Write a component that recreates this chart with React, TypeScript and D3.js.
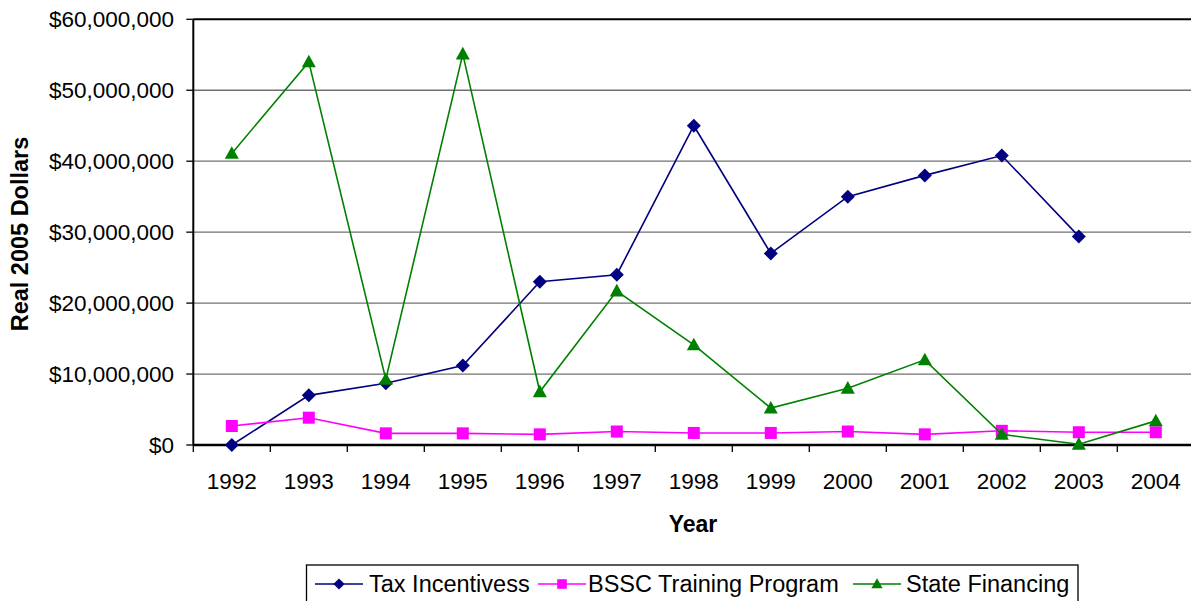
import React from "react";
import * as d3 from "d3";

const years = ["1992","1993","1994","1995","1996","1997","1998","1999","2000","2001","2002","2003","2004"];
const taxIncentives: (number | null)[] = [0, 7.0e6, 8.7e6, 11.2e6, 23.0e6, 24.0e6, 45.0e6, 27.0e6, 35.0e6, 38.0e6, 40.8e6, 29.4e6, null];
const bsscTraining: (number | null)[] = [2.68e6, 3.85e6, 1.64e6, 1.64e6, 1.5e6, 1.9e6, 1.7e6, 1.7e6, 1.9e6, 1.5e6, 2.0e6, 1.8e6, 1.8e6];
const stateFinancing: (number | null)[] = [41.1e6, 54.0e6, 9.25e6, 55.1e6, 7.5e6, 21.7e6, 14.1e6, 5.2e6, 8.0e6, 12.0e6, 1.5e6, 0.1e6, 3.4e6];
const yTicks = [0, 10e6, 20e6, 30e6, 40e6, 50e6, 60e6];
const seriesNames = ["Tax Incentivess", "BSSC Training Program", "State Financing"];

const W = 1191, H = 601;
const left = 193.3, right = 1194.3, top = 19.3, bottom = 445;

function marker(kind: string, x: number, y: number, color: string, key?: any, scale = 1) {
  if (kind === "diamond") {
    const s = 7 * scale;
    return <path key={key} d={`M${x},${y - s}L${x + s},${y}L${x},${y + s}L${x - s},${y}Z`} fill={color} />;
  }
  if (kind === "square") {
    const s = 6 * scale;
    return <rect key={key} x={x - s} y={y - s} width={2 * s} height={2 * s} fill={color} />;
  }
  const w = 7 * scale, h = 12 * scale;
  return <path key={key} d={`M${x},${y - h * 0.6}L${x + w},${y + h * 0.45}L${x - w},${y + h * 0.45}Z`} fill={color} />;
}

export default function App() {
  const x = d3.scaleBand<string>().domain(years).range([left, right]).padding(0);
  const y = d3.scaleLinear().domain([0, 60e6]).range([bottom, top]);
  const cx = (yr: string) => (x(yr) as number) + x.bandwidth() / 2;
  const fmt = (v: number) => "$" + d3.format(",")(v);

  const series = [
    { name: seriesNames[0], data: taxIncentives, color: "#000080", kind: "diamond" },
    { name: seriesNames[1], data: bsscTraining, color: "#FF00FF", kind: "square" },
    { name: seriesNames[2], data: stateFinancing, color: "#008000", kind: "triangle" },
  ];

  const line = d3.line<[string, number | null]>()
    .defined(d => d[1] != null)
    .x(d => cx(d[0]))
    .y(d => y(d[1] as number));

  const legendItems = [
    { lx: 315, tx: 369 },
    { lx: 538, tx: 588 },
    { lx: 853, tx: 906 },
  ];

  return (
    <svg width={W} height={H} style={{ position: "absolute", left: 0, top: 0, background: "#fff" }}
      fontFamily="'Liberation Sans', Arial, sans-serif">
      {yTicks.map(t => (
        <line key={t} x1={left} x2={W} y1={y(t)} y2={y(t)}
          stroke={t === 60e6 ? "#000" : "#707070"} strokeWidth={t === 60e6 ? 2 : 1.3} />
      ))}
      <line x1={left} x2={left} y1={top} y2={bottom} stroke="#000" strokeWidth={2} />
      {yTicks.map(t => (
        <g key={"yt" + t}>
          <line x1={left - 7} x2={left} y1={y(t)} y2={y(t)} stroke="#000" strokeWidth={1.3} />
          <text x={174} y={y(t)} dy="0.35em" textAnchor="end" fontSize={22.5} fill="#000">{fmt(t)}</text>
        </g>
      ))}
      <line x1={left} x2={W} y1={bottom} y2={bottom} stroke="#000" strokeWidth={2.5} />
      {years.map(yr => (
        <line key={"xt" + yr} x1={(x(yr) as number)} x2={(x(yr) as number)} y1={bottom} y2={bottom + 7} stroke="#000" strokeWidth={1.3} />
      ))}
      {years.map(yr => (
        <text key={"xl" + yr} x={cx(yr)} y={489} textAnchor="middle" fontSize={22.5} fill="#000">{yr}</text>
      ))}
      <text x={693} y={532} textAnchor="middle" fontSize={23} fontWeight="bold" fill="#000">Year</text>
      <text transform={`translate(28,234) rotate(-90)`} textAnchor="middle" fontSize={23.5} fontWeight="bold" fill="#000">Real 2005 Dollars</text>
      {series.map(s => {
        const pts = years.map((yr, i) => [yr, s.data[i]] as [string, number | null]);
        return (
          <g key={s.name}>
            <path d={line(pts) as string} fill="none" stroke={s.color} strokeWidth={1.6} />
            {pts.filter(p => p[1] != null).map((p, i) => marker(s.kind, cx(p[0]), y(p[1] as number), s.color, i))}
          </g>
        );
      })}
      <rect x={306.5} y={565} width={771.5} height={60} fill="#fff" stroke="#000" strokeWidth={1.3} />
      {series.map((s, i) => (
        <g key={"lg" + s.name}>
          <line x1={legendItems[i].lx} x2={legendItems[i].lx + 48} y1={584} y2={584} stroke={s.color} strokeWidth={1.6} />
          {marker(s.kind, legendItems[i].lx + 24, 584, s.color, undefined, 0.8)}
          <text x={legendItems[i].tx} y={592} fontSize={23.5} fill="#000">{s.name}</text>
        </g>
      ))}
    </svg>
  );
}
